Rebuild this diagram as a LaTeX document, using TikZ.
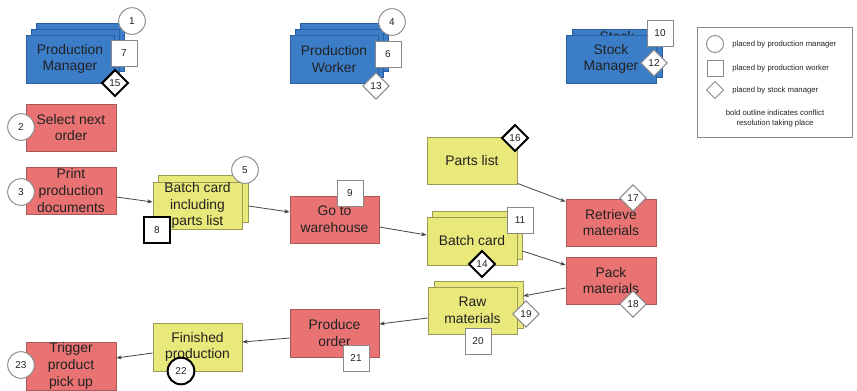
\documentclass[tikz,border=0pt]{standalone}
\usepackage{fontspec}
\setmainfont{Liberation Sans}
\usetikzlibrary{shapes.geometric,calc,arrows.meta}
\definecolor{bfill}{HTML}{3C7DC8}
\definecolor{bdraw}{HTML}{2B5E9E}
\definecolor{rfill}{HTML}{E97373}
\definecolor{rdraw}{HTML}{A85A5A}
\definecolor{yfill}{HTML}{E9E87A}
\definecolor{ydraw}{HTML}{9B9A55}
\definecolor{txt}{HTML}{222222}
\definecolor{mdraw}{HTML}{8A8A8A}
\tikzset{
  base/.style={rectangle, inner sep=0pt, align=center, text=txt, line width=0.6pt,
    font=\fontsize{10.4}{12.5}\selectfont},
  bbox/.style={base, fill=bfill, draw=bdraw},
  rbox/.style={base, fill=rfill, draw=rdraw},
  ybox/.style={base, fill=yfill, draw=ydraw},
  marker/.style={fill=white, draw=mdraw, line width=0.7pt, inner sep=0pt, text=txt,
    font=\fontsize{7.5}{9}\selectfont},
  mcirc/.style={marker, circle, minimum size=20pt},
  msq/.style={marker, rectangle, minimum size=19.5pt},
  mdia/.style={marker, diamond, aspect=1, minimum size=20pt},
  bold/.style={draw=black, line width=1.5pt},
  arr/.style={draw=txt!85, line width=0.6pt, -{Stealth[length=4pt,width=3pt]}},
  legtext/.style={inner sep=0pt, text=txt, font=\fontsize{5.8}{7.5}\selectfont, align=center},
}
% \bx{style}{name}{x1}{y1}{x2}{y2}{text}  (pixel corners)
\newcommand\bx[7]{\node[#1, minimum width={(#5-#3)*0.75pt}, minimum height={(#6-#4)*0.75pt}]
  (#2) at ({(#3+#5)/2},{(#4+#6)/2}) {#7};}
\begin{document}
\begin{tikzpicture}[x=0.75pt,y=-0.75pt]
\useasboundingbox[fill=white] (0,0) rectangle (857,390);

% Production Manager
\bx{bbox}{pm3}{36}{23}{124}{71}{}
\bx{bbox}{pm2}{31}{29}{119}{77}{}
\bx{bbox}{pm}{26}{35}{114}{83}{Production\\Manager}
% Production Worker
\bx{bbox}{pw3}{300}{23}{388}{71}{}
\bx{bbox}{pw2}{295}{29}{383}{77}{}
\bx{bbox}{pw}{290}{35}{378}{83}{Production\\Worker}
% Stock Manager
\bx{bbox}{smb}{572}{29}{662}{77}{}
\begin{scope}
\clip (572,29) rectangle (662,36);
\node[base, anchor=north] (smt) at (617,31) {Stock};
\end{scope}
\bx{bbox}{sm}{566}{35}{656}{83}{Stock\\Manager}

% process boxes
\bx{rbox}{sel}{26}{104}{116}{151}{Select next\\order}
\bx{rbox}{print}{26}{167}{116}{214}{Print\\production\\documents}
\bx{ybox}{bcb}{158}{175}{248}{222}{}
\bx{ybox}{bcf}{153}{182}{242}{229}{Batch card\\including\\parts list}
\bx{rbox}{goto}{290}{196}{379}{243}{Go to\\warehouse}
\bx{ybox}{parts}{427}{137}{517}{184}{Parts list}
\bx{ybox}{bcmb}{432}{211}{522}{259}{}
\bx{ybox}{bcm}{427}{217}{517}{265}{Batch card}
\bx{rbox}{retr}{566}{199}{656}{246}{Retrieve\\materials}
\bx{rbox}{pack}{566}{257}{656}{304}{Pack\\materials}
\bx{ybox}{rawb}{434}{281}{523}{328}{}
\bx{ybox}{raw}{428}{287}{517}{334}{Raw\\materials}
\bx{rbox}{prod}{290}{309}{379}{357}{Produce\\order}
\bx{ybox}{fin}{153}{323}{242}{371}{Finished\\production}
\bx{rbox}{trig}{26}{342}{116}{390}{Trigger\\product\\pick up}

% connectors
\draw[arr] ($(print.east)+(0,6.5)$) -- ($(bcf.west)+(0,-3.5)$);
\draw[arr] ($(bcb.east)+(0,7.5)$) -- ($(goto.west)+(0,-7.5)$);
\draw[arr] ($(parts.south east)+(0,-1)$) -- ($(retr.north west)+(0,3)$);
\draw[arr] ($(goto.east)+(0,7.5)$) -- ($(bcm.west)+(0,-6)$);
\draw[arr] ($(bcmb.east)+(0,16)$) -- ($(pack.west)+(0,-15.5)$);
\draw[arr] ($(pack.west)+(0,7.5)$) -- ($(rawb.east)+(0,-8.5)$);
\draw[arr] ($(raw.west)+(0,7.5)$) -- ($(prod.east)+(0,-9)$);
\draw[arr] ($(prod.west)+(0,5)$) -- ($(fin.east)+(0,-5)$);
\draw[arr] ($(fin.west)+(0,6)$) -- ($(trig.east)+(0,-8)$);

% markers
\node[mcirc] (m1) at (132,21) {1};
\node[mcirc] (m2) at (21,127) {2};
\node[mcirc] (m3) at (21,192) {3};
\node[mcirc] (m4) at (392,22) {4};
\node[mcirc] (m5) at (245,170) {5};
\node[msq] (m6) at (388,54) {6};
\node[msq] (m7) at (124,53) {7};
\node[msq, bold] (m8) at (157,230) {8};
\node[msq] (m9) at (350,193) {9};
\node[msq] (m10) at (660,33) {10};
\node[msq] (m11) at (520,220) {11};
\node[mdia] (m12) at (654,63) {12};
\node[mdia] (m13) at (376,86) {13};
\node[mdia, bold] (m14) at (482,264) {14};
\node[mdia, bold] (m15) at (115,83) {15};
\node[mdia, bold] (m16) at (515,138) {16};
\node[mdia] (m17) at (633,198) {17};
\node[mdia] (m18) at (633,304) {18};
\node[mdia] (m19) at (526,314) {19};
\node[msq] (m20) at (478,341) {20};
\node[msq] (m21) at (356,358) {21};
\node[mcirc, bold] (m22) at (181,371) {22};
\node[mcirc] (m23) at (21,365) {23};

% legend
\bx{draw=mdraw, line width=0.6pt, rectangle}{leg}{697}{27}{852}{137}{}
\node[marker, circle, minimum size=12.75pt] (lc) at (715,44) {};
\node[marker, rectangle, minimum size=12pt] (ls) at (715,68) {};
\node[marker, diamond, aspect=1, minimum size=13pt] (ld) at (715,90) {};
\node[legtext, anchor=west] (lct) at (732,44) {placed by production manager};
\node[legtext, anchor=west] (lst) at (732,68) {placed by production worker};
\node[legtext, anchor=west] (ldt) at (732,90) {placed by stock manager};
\node[legtext] (lbt) at (775,118) {bold outline indicates conflict\\resolution taking place};
\end{tikzpicture}
\end{document}
